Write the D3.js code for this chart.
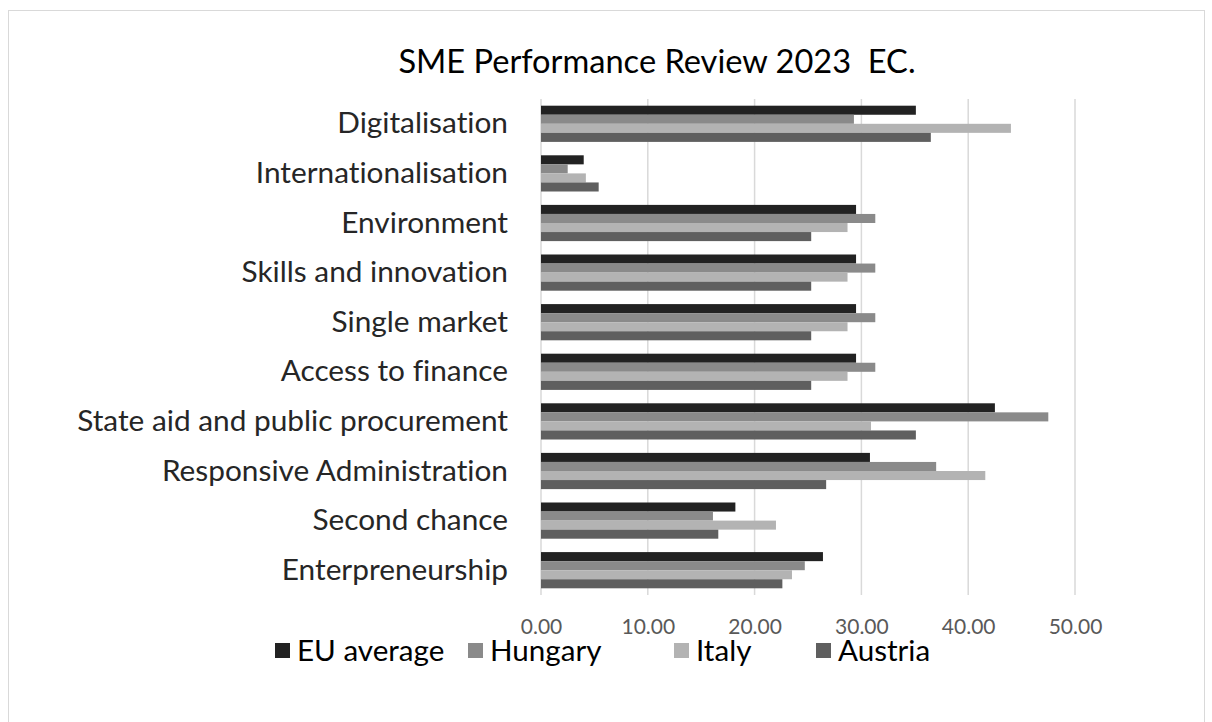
<!DOCTYPE html>
<html><head><meta charset="utf-8">
<script src="https://cdn.jsdelivr.net/npm/d3@7"></script>
<style>body{margin:0;background:#fff;} svg{display:block;} text{font-variant-ligatures:none;font-feature-settings:"liga" 0;}</style>
</head><body>
<script>
const categories = ["Digitalisation","Internationalisation","Environment","Skills and innovation","Single market","Access to finance","State aid and public procurement","Responsive Administration","Second chance","Enterpreneurship"];
const seriesNames = ["EU average","Hungary","Italy","Austria"];
const euAverage = [35.1, 4.0, 29.5, 29.5, 29.5, 29.5, 42.5, 30.8, 18.2, 26.4];
const hungary   = [29.3, 2.5, 31.3, 31.3, 31.3, 31.3, 47.5, 37.0, 16.1, 24.7];
const italy     = [44.0, 4.2, 28.7, 28.7, 28.7, 28.7, 30.9, 41.6, 22.0, 23.5];
const austria   = [36.5, 5.4, 25.3, 25.3, 25.3, 25.3, 35.1, 26.7, 16.6, 22.6];
const xTicks = [0, 10, 20, 30, 40, 50];
const title = "SME Performance Review 2023  EC.";

const colors = ["#222222","#8a8a8a","#b3b3b3","#5f5f5f"];
const seriesValues = [euAverage, hungary, italy, austria];

const W = 1212, H = 722;
const svg = d3.select("body").append("svg").attr("width", W).attr("height", H);
const font = "Lato, 'Open Sans', sans-serif";

svg.append("rect").attr("x", 8.5).attr("y", 10.5).attr("width", 1196).attr("height", 740)
  .attr("fill", "#fff").attr("stroke", "#d9d9d9").attr("stroke-width", 1);

const x = d3.scaleLinear().domain([0, 50]).range([541, 1075]);
const y0 = d3.scaleBand().domain(categories).range([99, 595]).paddingInner(0.27).paddingOuter(0.135);
const y1 = d3.scaleBand().domain(seriesNames).range([0, y0.bandwidth()]);

// grid
svg.append("g").selectAll("line").data(xTicks).join("line")
  .attr("x1", d => x(d)).attr("x2", d => x(d)).attr("y1", 99).attr("y2", 595)
  .attr("stroke", "#d9d9d9").attr("stroke-width", 1.5);

// bars
const groups = svg.append("g").selectAll("g").data(categories).join("g")
  .attr("transform", d => `translate(0,${y0(d)})`);
groups.selectAll("rect").data((c, i) => seriesNames.map((s, j) => ({s, v: seriesValues[j][i], j})))
  .join("rect")
  .attr("x", x(0)).attr("y", d => y1(d.s))
  .attr("width", d => x(d.v) - x(0)).attr("height", y1.bandwidth())
  .attr("fill", d => colors[d.j]);

// x axis
const xAxis = svg.append("g").attr("transform", "translate(0,595)")
  .call(d3.axisBottom(x).tickValues(xTicks).tickFormat(d3.format(".2f")).tickSize(0).tickPadding(24));
xAxis.select(".domain").remove();
xAxis.selectAll("text").attr("font-family", font).attr("font-size", 21).attr("fill", "#595959");

// y axis labels
const yAxis = svg.append("g").attr("transform", "translate(541,0)")
  .call(d3.axisLeft(y0).tickSize(0).tickPadding(33));
yAxis.select(".domain").remove();
yAxis.selectAll("text").attr("font-family", font).attr("font-size", 29.8).attr("fill", "#262626");

// title
svg.append("text").attr("x", 657).attr("y", 73).attr("text-anchor", "middle")
  .attr("font-family", font).attr("font-size", 32.6).attr("fill", "#000")
  .style("white-space", "pre").text(title);

// legend
const legendX = [275, 468, 674, 816];
const lg = svg.append("g").selectAll("g").data(seriesNames).join("g")
  .attr("transform", (d, i) => `translate(${legendX[i]},643)`);
lg.append("rect").attr("width", 15).attr("height", 15).attr("fill", (d, i) => colors[i]);
lg.append("text").attr("x", 22).attr("y", 17.5).attr("font-family", font).attr("font-size", 29.6)
  .attr("fill", "#000").text(d => d);
</script>
</body></html>
